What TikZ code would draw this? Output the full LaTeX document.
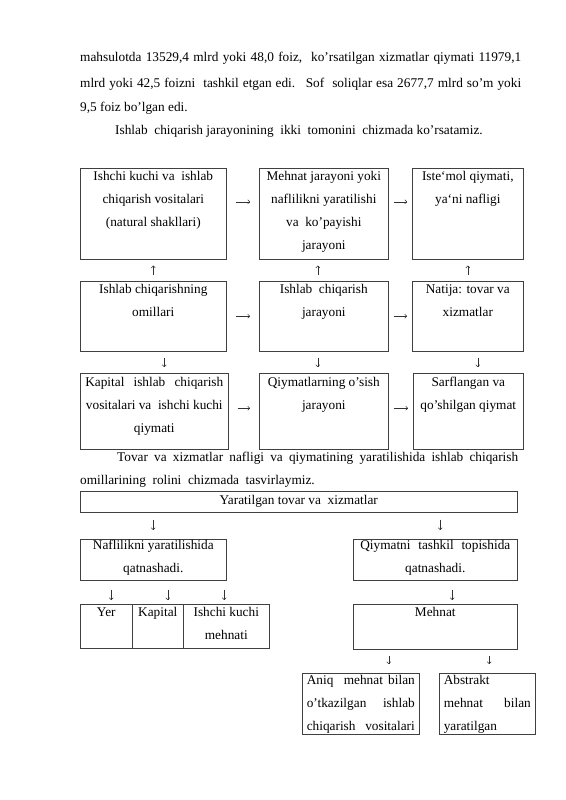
\documentclass[tikz,border=0pt]{standalone}
\usepackage{fontspec}
\setmainfont{Liberation Serif}
\usetikzlibrary{arrows.meta}
% box text: [first baseline]{width}{height}{lines}
\newcommand{\bxt}[4][12pt]{\parbox[t][#3][t]{#2}{\baselineskip=23pt\centering\rule{0pt}{#1}#4}}
\tikzset{
  chartbox/.style={draw=black!75, line width=0.6pt, inner sep=0pt, anchor=north west},
  txt/.style={inner sep=0pt, anchor=base west},
  harr/.style={draw=black!80, line width=0.5pt, -{To[length=2.5pt,width=4.5pt]}, shorten <=#1, shorten >=#1},
  varr/.style 2 args={draw=black!80, line width=0.5pt, -{To[length=2.5pt,width=4.5pt]}, shorten <=#1, shorten >=#2}
}
\begin{document}
\begin{tikzpicture}[x=1pt,y=-1pt,font=\fontsize{13.3}{23}\selectfont]
\useasboundingbox[fill=white] (0,0) rectangle (565,800);

% text above the first chart
\node[txt] (l1) at (80,62) {\makebox[441pt][s]{mahsulotda 13529,4 mlrd yoki 48,0 foiz,~ ko’rsatilgan xizmatlar qiymati 11979,1}};
\node[txt] (l2) at (80,87) {\makebox[441pt][s]{mlrd yoki 42,5 foizni~ tashkil etgan edi.~ Sof~ soliqlar esa 2677,7 mlrd so’m yoki}};
\node[txt] (l3) at (80,111) {9,5 foiz bo’lgan edi.};
\node[txt] (l4) at (115,134) {Ishlab~ chiqarish jarayonining~ ikki~ tomonini~ chizmada ko’rsatamiz.};

% first chart
\node[chartbox] (b11) at (80,168) {\bxt{146pt}{91pt}{Ishchi kuchi va~ ishlab\\ chiqarish vositalari\\ (natural shakllari)}};
\node[chartbox] (b12) at (259,168) {\bxt{129pt}{91pt}{Mehnat jarayoni yoki\\ naflilikni yaratilishi\\ va~ ko’payishi\\ jarayoni}};
\node[chartbox] (b13) at (412,168) {\bxt{111pt}{91pt}{Iste‘mol qiymati,\\ ya‘ni nafligi}};

\node[chartbox] (b21) at (80,281) {\bxt{146pt}{70pt}{Ishlab chiqarishning\\ omillari}};
\node[chartbox] (b22) at (259,281) {\bxt{129pt}{70pt}{Ishlab~ chiqarish\\ jarayoni}};
\node[chartbox] (b23) at (412,281) {\bxt{111pt}{70pt}{Natija: tovar va\\ xizmatlar}};

\node[chartbox] (b31) at (80,373) {\bxt[13pt]{148pt}{76pt}{\makebox[138pt][s]{Kapital~ ishlab~ chiqarish}\\ vositalari va~ ishchi kuchi\\ qiymati}};
\node[chartbox] (b32) at (259,373) {\bxt[13pt]{129pt}{76pt}{Qiymatlarning o’sish\\ jarayoni}};
\node[chartbox] (b33) at (413,373) {\bxt[13pt]{110pt}{76pt}{Sarflangan va\\ qo’shilgan qiymat}};

\draw[harr=9] ([yshift=12]b11.east) -- ([yshift=12]b12.west);
\draw[harr=5] ([yshift=12]b12.east) -- ([yshift=12]b13.west);
\draw[harr=9] (b21.east) -- (b22.west);
\draw[harr=5] (b22.east) -- (b23.west);
\draw[harr=9] ([yshift=3]b31.east) -- ([yshift=3]b32.west);
\draw[harr=5] ([yshift=3]b32.east) -- ([yshift=3]b33.west);

\draw[varr={6}{6}] (b21.north) -- (b21.north |- b11.south);
\draw[varr={6}{6}] ([xshift=-6]b22.north) -- ([xshift=-6]b22.north |- b12.south);
\draw[varr={6}{6}] (b23.north) -- (b23.north |- b13.south);
\draw[varr={6}{6}] ([xshift=11]b21.south) -- ([xshift=11]b21.south |- b31.north);
\draw[varr={6}{6}] ([xshift=-6]b22.south) -- ([xshift=-6]b22.south |- b32.north);
\draw[varr={6}{6}] ([xshift=10]b23.south) -- ([xshift=10]b23.south |- b33.north);

% text between the charts
\node[txt] (t1) at (117,461) {\makebox[401pt][s]{Tovar va xizmatlar nafligi va qiymatining yaratilishida ishlab chiqarish}};
\node[txt] (t2) at (80,484) {omillarining~ rolini~ chizmada~ tasvirlaymiz.};

% second chart
\node[chartbox] (yar) at (80,491) {\bxt[13pt]{437pt}{21pt}{Yaratilgan tovar va~ xizmatlar}};
\node[chartbox] (nafl) at (80,539) {\bxt[10pt]{146pt}{41pt}{Naflilikni yaratilishida\\ qatnashadi.}};
\node[chartbox] (qiym) at (353,539) {\bxt[10pt]{164pt}{41pt}{\makebox[150pt][s]{Qiymatni~ tashkil~ topishida}\\ qatnashadi.}};

\node[chartbox] (yer) at (80,604) {\bxt{52pt}{44pt}{Yer}};
\node[chartbox] (kap) at (132,604) {\bxt{51pt}{44pt}{Kapital}};
\node[chartbox] (ish) at (183,604) {\bxt{86pt}{44pt}{Ishchi kuchi\\ mehnati}};
\node[chartbox] (meh) at (353,604) {\bxt{164pt}{45pt}{Mehnat}};

\node[chartbox] (aniq) at (302,673) {\bxt[11pt]{117pt}{61pt}{\makebox[108pt][s]{Aniq~ mehnat bilan}\\ \makebox[108pt][s]{o’tkazilgan ishlab}\\ \makebox[108pt][s]{chiqarish vositalari}}};
\node[chartbox] (abst) at (439,673) {\bxt[11pt]{96pt}{61pt}{\makebox[87pt][l]{Abstrakt}\\ \makebox[87pt][s]{mehnat bilan}\\ \makebox[87pt][l]{yaratilgan}}};

\draw[varr={7}{9}] (nafl.north |- yar.south) -- (nafl.north);
\draw[varr={7}{9}] ([xshift=5]qiym.north |- yar.south) -- ([xshift=5]qiym.north);
\draw[varr={9}{4}] ([xshift=5]yer.north |- nafl.south) -- ([xshift=5]yer.north);
\draw[varr={9}{4}] ([xshift=10]kap.north |- nafl.south) -- ([xshift=10]kap.north);
\draw[varr={9}{4}] ([xshift=-2]ish.north |- nafl.south) -- ([xshift=-2]ish.north);
\draw[varr={9}{4}] ([xshift=17]meh.north |- qiym.south) -- ([xshift=17]meh.north);
\draw[varr={6}{9}] ([xshift=28]aniq.north |- meh.south) -- ([xshift=28]aniq.north);
\draw[varr={6}{9}] ([xshift=2]abst.north |- meh.south) -- ([xshift=2]abst.north);
\end{tikzpicture}
\end{document}
